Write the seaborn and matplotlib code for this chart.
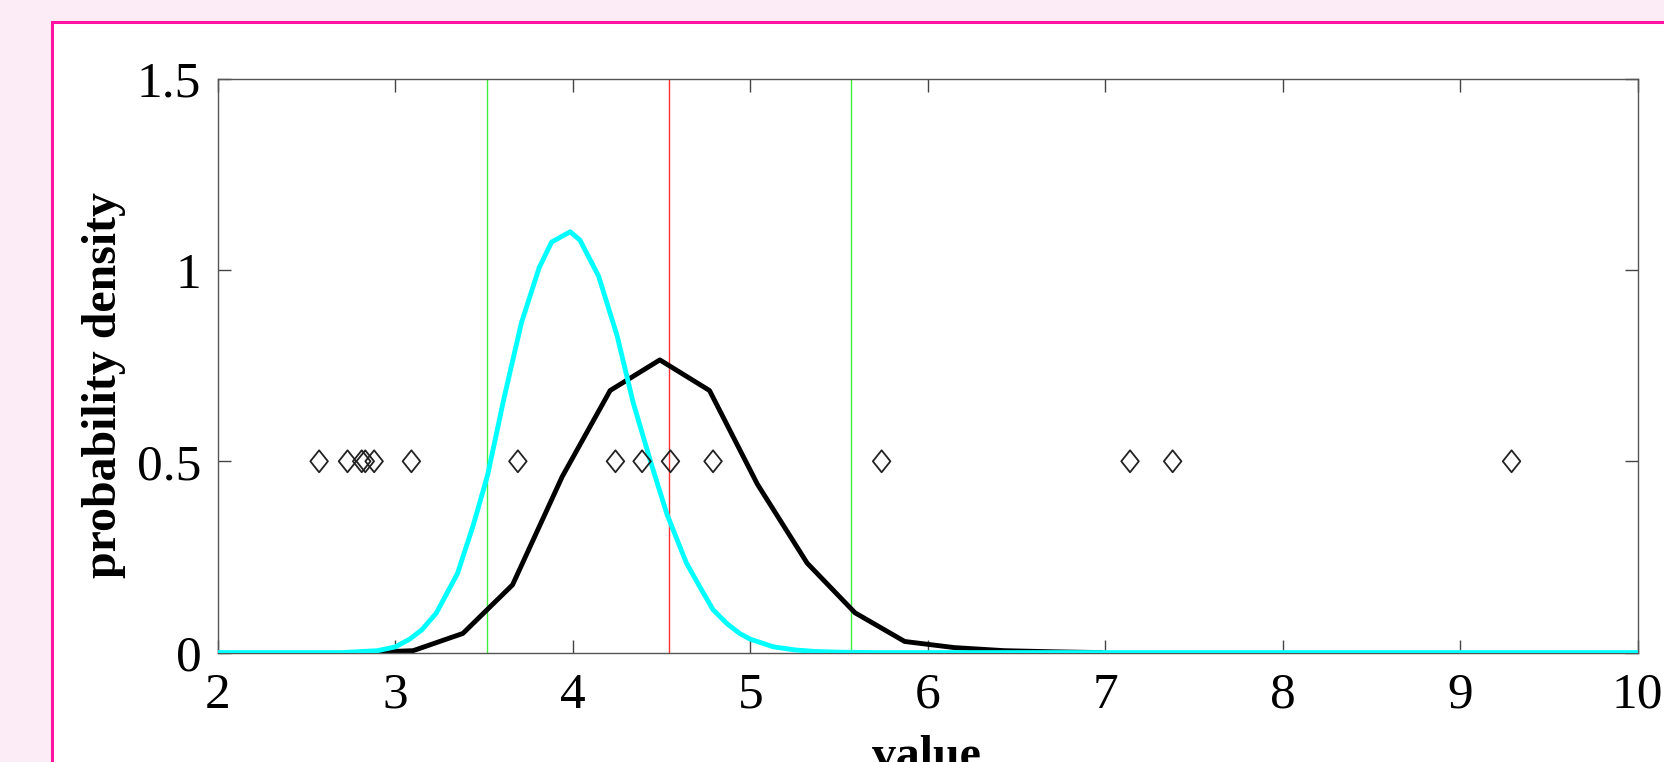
import numpy as np
import pandas as pd

import matplotlib
matplotlib.use("Agg")
import matplotlib.pyplot as plt
from matplotlib.patches import Rectangle
from matplotlib.path import Path
import seaborn as sns


# observed sample values (drawn as diamonds at y = 0.5)
sample_x = [2.57, 2.73, 2.81, 2.83, 2.88, 3.09, 3.69, 4.24, 4.39, 4.55, 4.79,
            5.74, 7.14, 7.38, 9.29]
sample_level = 0.5

# black density curve (coarse sampling)
black_x = [2.82, 3.10, 3.38, 3.66, 3.94, 4.21, 4.49, 4.77, 5.04, 5.32, 5.59,
           5.87, 6.15, 6.43, 6.71, 6.98]
black_y = [0.0, 0.005, 0.05, 0.177, 0.46, 0.685, 0.765, 0.685, 0.44, 0.234,
           0.104, 0.029, 0.013, 0.005, 0.002, 0.0]

# cyan density curve
cyan_x = [2.00, 2.70, 2.90, 3.00, 3.08, 3.15, 3.23, 3.35, 3.44, 3.52, 3.61,
          3.71, 3.81, 3.88, 3.985, 4.04, 4.145, 4.25, 4.34, 4.44, 4.53, 4.64,
          4.72, 4.79, 4.87, 4.94, 5.00, 5.13, 5.25, 5.36, 5.50, 5.70, 10.0]
cyan_y = [0.0, 0.0, 0.005, 0.015, 0.035, 0.06, 0.103, 0.207, 0.335, 0.465,
          0.661, 0.862, 1.006, 1.073, 1.100, 1.078, 0.984, 0.827, 0.653, 0.496,
          0.362, 0.234, 0.168, 0.112, 0.075, 0.05, 0.035, 0.015, 0.007, 0.003,
          0.001, 0.0, 0.0]

# vertical reference lines
mean_line = 4.54
bound_lines = [3.515, 5.57]

x_ticks = [2, 3, 4, 5, 6, 7, 8, 9, 10]
y_ticks = [0, 0.5, 1, 1.5]
y_tick_labels = ["0", "0.5", "1", "1.5"]


sns.set_style("ticks")
plt.rcParams['font.family'] = ['Liberation Serif', 'DejaVu Serif']

fig = plt.figure(figsize=(16.64, 7.62), dpi=100, facecolor="#fcecf6")

# white panel with magenta frame, running off the right/bottom edges
panel = Rectangle((51.7 / 1664, -0.2), 1.2, 0.9707 + 0.2,
                  transform=fig.transFigure, facecolor="white",
                  edgecolor="#ff12a2", linewidth=2.2, zorder=-5)
fig.patches.append(panel)

ax = fig.add_axes([0.1310, 0.1436, 0.8531, 0.7531])
ax.set_facecolor("white")

for xv in bound_lines:
    ax.axvline(xv, color="#3cf03c", linewidth=1.0, zorder=1)
ax.axvline(mean_line, color="#ff3030", linewidth=1.0, zorder=1)

black_df = pd.DataFrame({"value": black_x, "density": black_y})
cyan_df = pd.DataFrame({"value": cyan_x, "density": cyan_y})
sns.lineplot(data=black_df, x="value", y="density", color="black",
             linewidth=3.5, sort=False, estimator=None, ax=ax, zorder=2)
sns.lineplot(data=cyan_df, x="value", y="density", color="#00ffff",
             linewidth=3.5, sort=False, estimator=None, ax=ax, zorder=3)

diamond = Path([(-0.8, 0), (0, 1), (0.8, 0), (0, -1), (-0.8, 0)],
               [Path.MOVETO, Path.LINETO, Path.LINETO, Path.LINETO, Path.CLOSEPOLY])
pts = pd.DataFrame({"value": sample_x, "level": [sample_level] * len(sample_x)})
sns.scatterplot(data=pts, x="value", y="level", marker=diamond, s=250,
                facecolor="none", edgecolor="#222222", linewidth=1.3,
                ax=ax, zorder=4)

ax.set_xlim(2, 10)
ax.set_ylim(0, 1.5)
ax.set_xticks(x_ticks)
ax.set_xticklabels([str(t) for t in x_ticks])
ax.set_yticks(y_ticks)
ax.set_yticklabels(y_tick_labels)

for side in ["left", "right", "top", "bottom"]:
    ax.spines[side].set_visible(True)
    ax.spines[side].set_color("#555555")
    ax.spines[side].set_linewidth(1.0)

ax.tick_params(axis="both", which="major", direction="in", length=9.5,
               width=1.0, color="#444444", labelsize=37, labelcolor="black",
               top=True, right=True)
ax.tick_params(axis="x", pad=14)
ax.tick_params(axis="y", pad=12)

ax.set_xlabel("value", fontsize=34.5, fontweight="bold", color="black")
ax.set_ylabel("probability density", fontsize=34.5, fontweight="bold",
              color="black")
ax.xaxis.set_label_coords(0.4993, -0.143)
ax.yaxis.set_label_coords(-0.065, 0.467)

fig.savefig("out.png", dpi=100, facecolor=fig.get_facecolor())
